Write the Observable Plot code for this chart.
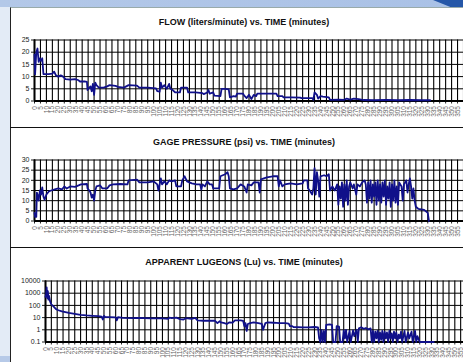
<!DOCTYPE html>
<html><head><meta charset="utf-8">
<script src="https://cdn.jsdelivr.net/npm/d3@7"></script>
<script src="https://cdn.jsdelivr.net/npm/@observablehq/plot@0.6"></script>
<style>
body{margin:0;}
#bg{position:relative;width:463px;height:362px;overflow:hidden;background:#e3ebf6;font-family:"Liberation Sans",Arial,sans-serif;}
#topband{position:absolute;left:0;top:0;width:463px;height:7px;background:linear-gradient(90deg,#b3c8e8,#a9c1e6);}
#corner{position:absolute;right:0;top:0;width:30px;height:13px;background:#2557a8;clip-path:polygon(0 0,100% 0,100% 100%,60% 55%);}
#botband{position:absolute;left:0;top:356px;width:10px;height:6px;background:#b7cae8;}
#panel{position:absolute;left:10px;top:7px;width:460px;height:360px;background:#fff;border-left:1px solid #222;border-top:1px solid #9aa;}
.sep{position:absolute;left:10px;width:453px;height:1px;background:#111;}
.title{position:absolute;left:44px;width:400px;text-align:center;font-weight:bold;font-size:9px;color:#111;line-height:10px;}
.sec{position:absolute;left:0;}
.sec svg{max-width:none;}
</style></head>
<body>
<div id="bg">
<div id="topband"></div><div id="corner"></div><div id="botband"></div>
<div id="panel"></div>
<div class="sep" style="top:127px"></div>
<div class="sep" style="top:247px"></div>
<div class="title" style="top:17px">FLOW (liters/minute) vs. TIME (minutes)</div>
<div class="title" style="top:137px">GAGE PRESSURE (psi) vs. TIME (minutes)</div>
<div class="title" style="top:257px">APPARENT LUGEONS (Lu) vs. TIME (minutes)</div>
<div class="sec" id="s1" style="top:7px"></div>
<div class="sec" id="s2" style="top:127px"></div>
<div class="sec" id="s3" style="top:248px"></div>
</div>
<script>
const xTicks = d3.range(0, 361, 5);
const xLabelTicks = d3.range(0, 356, 5);
const flowTicks = [0,5,10,15,20,25];
const pressTicks = [0,5,10,15,20,25,30];
const lugTicks = [0.1,1,10,100,1000,10000];

const flowT = [0,0.5,1.5,2.5,3.5,4.5,5.5,6.5,7.5,9,12,15,16.5,18,20,22,24,26,30,34,37,38,42,44,44.5,46,47,48,49,50,51,52,54,58,61,63,68,70,75,79,86,88,95,102,103,105,106,107,109,111,113,114,116,118,122,123,128,129,135,141,142,145,146,147,150,151,156,157,160,163,164,167,169,170,175,176,178,180,182,184,186,187,195,203,204,208,209,216,223,224,233,234,235,237,238,240,242,247,248,255,260,262,265,268,272,276,285,295,305,315,325,332];
const flowV = [19,11,20,21.5,16,17.5,16.5,17.5,11,11,11,11.2,12,10.5,10,10.5,10,9,8.8,9,8.5,8,8,7.8,4.5,5.5,6,4,7,2.5,7.5,6.5,5.5,5.5,6,6.5,6.2,5.8,5.5,6.5,6.3,5.5,5.5,5.2,4,3.8,7.5,5.5,6.5,5,7,5,4.5,3.5,3.5,5.5,5.5,3.5,3.5,3.2,2.8,3.5,4.5,3,3.5,2.2,2,5,5,4.8,1.5,2,1.8,3,3,2.2,1.2,2.5,0.8,2.5,2,3,3,3,2,2,1.5,1.5,1.4,1.2,1.2,0.5,3.5,2.5,1,2,1.8,1.5,0.5,0.6,0.5,1,0.6,1,0.8,0.4,0.3,0.5,0.3,0.4,0.3,0.3];

const pressT = [0,0.5,1,1.5,2,3,3.5,4.5,5.5,6.5,7.5,8.5,10,12,14,17,20,23,25,27,30,34,37,39,44,44.5,46,47,48,49,50,51,52,55,57,61,63,66,72,78,79,86,88,95,100,103,104,105,106,107,109,111,113,115,118,119,123,124,126,128,132,136,139,140,141,143,145,147,149,150,155,156,160,162,163,164,167,170,173,176,178,179,182,184,188,189,190,195,200,204,205,206,208,210,215,220,225,226,229,229.5,231,233,234,235,236,237,238,239,240,243,245,247,248,250,252,254,255,256,257,258,259,260,261,262,263,264,265,267,268,270,271,273,275,277,278,279,280,281,282,283,284,285,286,287,288,289,290,291,292,293,294,295,296,297,298,299,300,301,302,303,304,305,306,308,309,310,312,313,314,315,316,317,318,319,320,322,327,329,330,331];
const pressV = [4,2,3.5,2,14,12,10,15,13,16.5,12,10.5,13,14.5,15,15.5,16,15.5,17,16,17,16.8,17.5,18,18.2,16,15,14,11.5,13,10,15,17,17.5,16,16,17.5,18,18.2,18,20,20.3,19,19,19.5,18,15,18,21,18,19.5,18,20,19.5,20,17,17,20,22,19.5,18.5,18,18,15.5,18,17,19.5,18,18,16,16,22,23,24,22,16,15.5,16,18,17,14,18,17.5,19,19,14,20.5,21.5,22,22,17,20,17,18,18.5,18,18.5,20,20,16,15,13,16,26,13,24,20,12,22,22.5,22,23,15,17,15,18,8,17,11,19,7,18,10,20,8,17,19,16,18,13,18,17,19,20,18,9,19,11,20,9,18,12,19,8,20,10,18,9,19,12,20,8,17,11,19,7,18,10,20,9,17,8,19,17,10,18,20,14,18,21,17,11,16,10,7,6,5.5,4.5,4,0];

const lugT = [0,0.5,1,1.5,2,2.5,3,4,5,7,9,11,14,17,20,25,30,35,40,45,48,49,50,51,55,60,61,62,66,75,80,90,100,105,106,108,112,115,118,120,125,128,130,135,140,145,147,149,150,153,155,157,160,162,167,169,170,171,172,173,175,178,182,185,186,188,190,195,200,205,208,209,211,212,220,225,230,233,234,235,236,237,238,239,240,243,245,246,248,249,251,252,254,255,256,257,258,260,261,263,264,266,267,268,270,272,274,276,278,279,280,281,282,283,284,285,286,287,288,289,290,291,292,293,294,295,296,297,298,299,300,301,302,303,304,305,306,307,308,310,311,313,314,316,317,318,320,332];
const lugV = [500,800,3000,400,1500,300,600,200,120,80,50,40,32,28,24,20,17,15,14,13,12,7,14,11,11,10.5,6,11,9.5,9,9.5,8.5,8.5,8,10,9,10,7.5,7,9,8,9.5,6,5.5,5.5,5.5,3.5,5,4,3.5,3,4,3.8,6,6,5.5,2,3.5,0.8,3,3.5,4,3.5,3,1,3.5,4,3.8,3.5,3.5,3.2,2,2,1.7,1.6,1.6,1.7,1.6,0.2,0.1,1,0.1,0.8,0.1,2.5,2.8,2.5,0.1,0.1,2,1.8,0.1,0.1,0.9,0.2,1,0.1,0.8,0.1,0.9,0.3,1,0.1,1.3,1.6,1.2,1.4,1.1,1.3,0.1,0.8,0.1,0.7,0.2,0.8,0.1,0.6,0.15,0.8,0.1,0.7,0.2,0.6,0.1,0.8,0.2,0.5,0.1,0.7,0.2,0.6,0.1,0.4,0.2,0.7,0.1,0.3,0.8,0.1,0.6,0.2,0.7,0.1,0.8,0.1,0.3,0.1,0.1];

const zip = (T, V) => T.map((t, i) => ({t, v: V[i]}));

function panel({data, domain, ticks, type = "linear", marginLeft, width}) {
  return Plot.plot({
    width, height: 120,
    marginTop: 32.5, marginBottom: 26.5, marginLeft, marginRight: 0,
    style: {background: "transparent", fontFamily: "Liberation Sans, Arial, sans-serif", fontSize: "7px", color: "#222", overflow: "visible"},
    x: {domain: [0, 360]},
    y: {domain, type},
    marks: [
      Plot.gridX(xTicks, {stroke: "#000", strokeOpacity: 1, strokeWidth: 1.1}),
      Plot.gridY(ticks, {stroke: "#000", strokeOpacity: 1}),
      Plot.axisX({ticks: xLabelTicks, tickRotate: -90, tickSize: 3, tickPadding: 2, label: null, fill: "#666", fontSize: 6.5}),
      Plot.axisY({ticks, tickSize: 3, tickPadding: 2, label: null, tickFormat: d => String(d)}),
      Plot.ruleX([0], {stroke: "#000", strokeWidth: 2}),
      Plot.ruleY([domain[0]], {stroke: "#000", strokeWidth: 2}),
      Plot.line(data, {x: "t", y: "v", stroke: "#10108a", strokeWidth: 1.8})
    ]
  });
}

document.getElementById("s1").append(panel({data: zip(flowT, flowV), domain: [0, 25], ticks: flowTicks, marginLeft: 34, width: 463}));
document.getElementById("s2").append(panel({data: zip(pressT, pressV), domain: [0, 30], ticks: pressTicks, marginLeft: 34, width: 463}));
document.getElementById("s3").append(panel({data: zip(lugT, lugV), domain: [0.1, 10000], ticks: lugTicks, type: "log", marginLeft: 45, width: 466}));
</script>
</body></html>
